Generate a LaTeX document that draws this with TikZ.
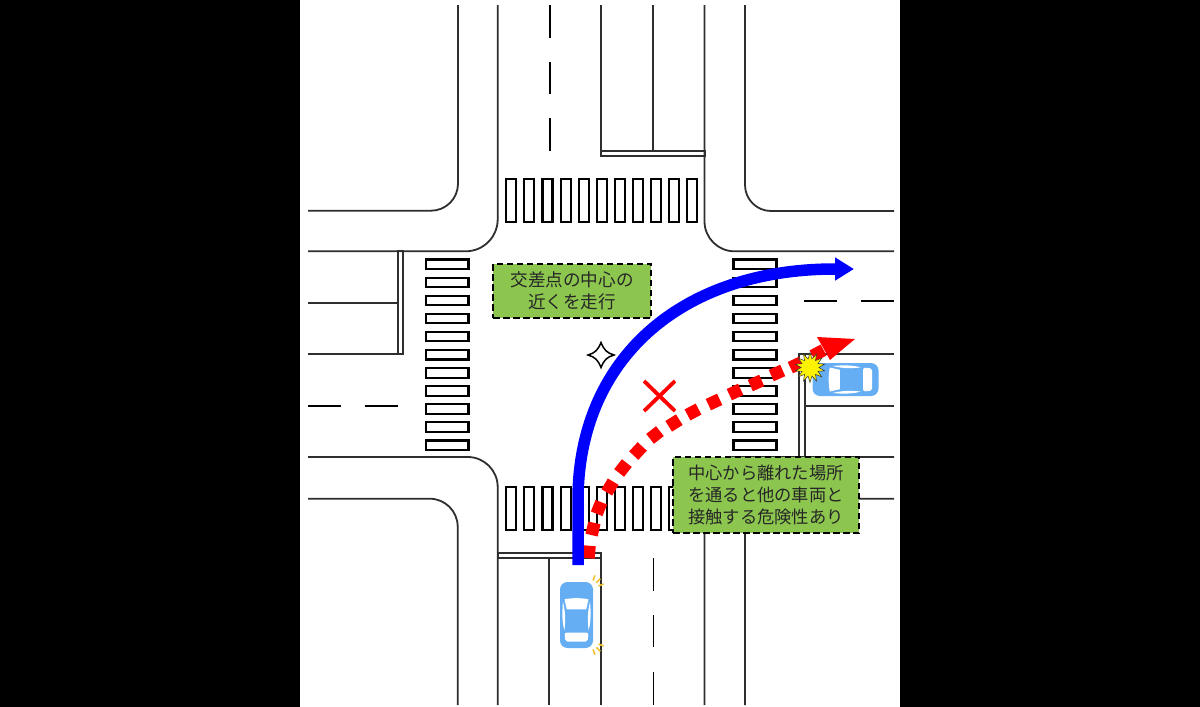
\documentclass[tikz,border=0pt]{standalone}
\usepackage{fontspec}
\newfontfamily\cjk{Noto Sans CJK JP}
\usetikzlibrary{arrows.meta,shapes.geometric}
\definecolor{carblue}{HTML}{66AEF4}
\definecolor{boxgreen}{HTML}{8CC64F}
\definecolor{blink}{HTML}{F2C230}
\definecolor{roadline}{HTML}{2E2E2E}
\tikzset{
  road/.style={draw=roadline,line width=1.8pt},
  zebra/.style={draw=black,line width=2.1pt,fill=white},
  note/.style={draw=black,fill=boxgreen,line width=2pt,dash pattern=on 6.5pt off 3.5pt,
    inner sep=0pt,align=center,text=black!85},
  redsq/.style={fill=red,minimum size=12.5pt,inner sep=0pt,draw=none,shape=rectangle},
  tick/.style={draw=blink,line width=1.6pt},
  pics/sedan/.style={code={
    \fill[carblue,rounded corners=7.5pt] (-16.5,-33) rectangle (16.5,33);
    \fill[white] (-12,-15.7) .. controls (-5,-17.2) and (5,-17.2) .. (12,-15.7) -- (9.7,-5.7) -- (-9.7,-5.7) -- cycle;
    \fill[white,rounded corners=2pt] (-12,17.7) -- (12,17.7) -- (11,26.7) -- (-11,26.7) -- cycle;
    \fill[white] (-13.5,-13) .. controls (-11,-3) and (-11,5) .. (-12,15) .. controls (-14.5,8) and (-14.5,-3) .. cycle;
    \fill[white] (13.5,-13) .. controls (11,-3) and (11,5) .. (12,15) .. controls (14.5,8) and (14.5,-3) .. cycle;
  }}
}
\begin{document}
\begin{tikzpicture}[x=1pt,y=-1pt]
\useasboundingbox (0,0) rectangle (1200,707);
\fill[black] (0,0) rectangle (1200,707);
\fill[white] (300,0) rectangle (899.5,707);

% kerbs
\draw[road,rounded corners=27pt] (458,5) -- (458,210.7) -- (308,210.7);
\draw[road,rounded corners=32pt] (497.7,5) -- (497.7,251.3) -- (308,251.3);
\draw[road,rounded corners=30pt] (704.5,5) -- (704.5,251.3) -- (894,251.3);
\draw[road,rounded corners=26pt] (745,5) -- (745,211) -- (894,211);
\draw[road,rounded corners=30pt] (308,457) -- (497.7,457) -- (497.7,705);
\draw[road,rounded corners=28pt] (308,498.7) -- (457.7,498.7) -- (457.7,705);
\draw[road,rounded corners=30pt] (894,457) -- (704.5,457) -- (704.5,705);
\draw[road,rounded corners=28pt] (894,498.7) -- (745,498.7) -- (745,705);

% north arm
\draw[road] (601,156) -- (601,5);
\draw[road] (653,151) -- (653,5);
\draw[road] (601,151) rectangle (705,156);
\foreach \a/\b in {5/37.5,62/94,118/151} \draw[road,draw=black] (549.7,\a) -- (549.7,\b);
% south arm
\draw[road] (498,553) rectangle (601,558.3);
\draw[road] (601,553) -- (601,705);
\draw[road] (549,558.3) -- (549,705);
\foreach \a/\b in {558/591,615/647,672/705} \draw[road,draw=black] (653.5,\a) -- (653.5,\b);
% west arm
\draw[road] (397.7,251.3) rectangle (402.9,354);
\draw[road] (308,303) -- (397.7,303);
\draw[road] (308,354) -- (397.7,354);
\foreach \a/\b in {308/341,365/398} \draw[road,draw=black] (\a,406) -- (\b,406);
% east arm
\draw[road,line width=2pt] (799,354) rectangle (805,457);
\draw[road] (805,354) -- (894,354);
\draw[road] (805,406) -- (894,406);
\foreach \a/\b in {804/837,861/894} \draw[road,draw=black] (\a,301) -- (\b,301);

% crossings
\foreach \i in {0,...,10}{
  \pgfmathsetmacro{\xa}{506.3+18.1*\i}
  \pgfmathsetmacro{\xb}{\xa+10}
  \pgfmathsetmacro{\ya}{259.5+18.1*\i}
  \pgfmathsetmacro{\yb}{\ya+9.5}
  \draw[zebra] (\xa,179) rectangle (\xb,222);
  \draw[zebra] (\xa,487) rectangle (\xb,530);
  \draw[zebra] (426,\ya) rectangle (468.5,\yb);
  \draw[zebra] (733.5,\ya) rectangle (776.5,\yb);
}

% cars
\pic at (576.5,615) {sedan};
\pic[rotate=90] at (845.5,379.5) {sedan};
\foreach \t in {70,45,20}{
  \draw[tick,shift={(590,589)}] (-\t:9) -- (-\t:14.5);
  \draw[tick,shift={(590,641)}] (\t:9) -- (\t:14.5);
}

% centre mark
\draw[black,line width=1.5pt,fill=white] (601,342.5) .. controls (604,350) and (607,353) .. (614,355)
  .. controls (607,357) and (604,360) .. (601,367.5)
  .. controls (598,360) and (595,357) .. (588,355)
  .. controls (595,353) and (598,350) .. (601,342.5) -- cycle;

% wrong path
\foreach \px/\py/\r in {589/552/85,593/529/77,599/508/68,610/487/59,623/468/52,638/451/47,655/435/38,674/423/32,693/412/28,714/402/25,735/392/25,756/383/24,777/373/24,796/365/25,818/353/28}
  \node[redsq,rotate=\r] at (\px,\py) {};
\fill[red] (817,337) -- (855,339) -- (830,360) -- cycle;
\draw[red,line width=3.8pt] (644,381) -- (675,411);
\draw[red,line width=3.8pt] (675,381) -- (644,411);
\node[star,star points=14,star point ratio=1.7,minimum size=30pt,inner sep=0pt,fill=yellow,draw=black!80,line width=.5pt] (hit) at (810,367.5) {};

% correct path
\draw[blue,line width=11.5pt,-{Triangle[length=19pt,width=22pt]}] (578,565) -- (578,500) .. controls (578,360) and (680,269) .. (835,269) -- (854,269);

% notes
\node[note,minimum width=158pt,minimum height=54pt,font={\cjk\fontsize{17.6}{21.5}\selectfont}] (noteA) at (572,291) {交差点の中心の\\近くを走行};
\node[note,minimum width=186pt,minimum height=76pt,font={\cjk\fontsize{17.3}{21.9}\selectfont}] (noteB) at (766,495) {中心から離れた場所\\を通ると他の車両と\\接触する危険性あり};
\end{tikzpicture}
\end{document}
